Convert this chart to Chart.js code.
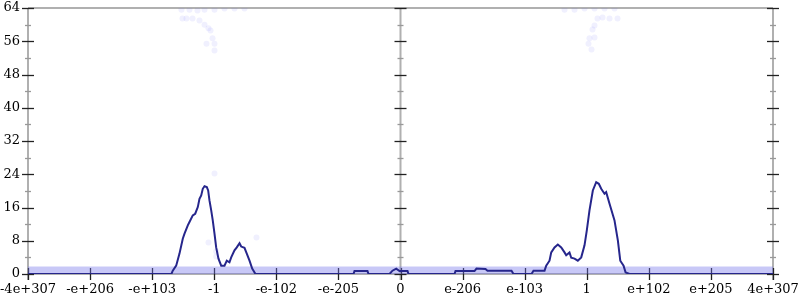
<!DOCTYPE html>
<html>
<head>
<meta charset="utf-8">
<script src="https://cdn.jsdelivr.net/npm/chart.js@4"></script>
<style>
  html, body { margin: 0; padding: 0; background: #fff; }
  #wrap { width: 800px; height: 300px; }
</style>
</head>
<body>
<div id="wrap"><canvas id="myChart" width="800" height="300"></canvas></div>
<script>
// x axis: tick index -6..6, each tick gets a label
const xTickLabels = ['-4e+307', '-e+206', '-e+103', '-1', '-e-102', '-e-205', '0',
  'e-206', 'e-103', '1', 'e+102', 'e+205', '4e+307'];
const yTicks = [0, 8, 16, 24, 32, 40, 48, 56, 64];

// histogram line (x in tick-index units)
const lineX = [-6, -3.690, -3.668, -3.613, -3.560, -3.507, -3.479, -3.426, -3.399, -3.346, -3.307,
  -3.265, -3.238, -3.210, -3.185, -3.157, -3.120, -3.098, -3.077, -3.049, -3.024,
  -2.996, -2.969, -2.932, -2.888, -2.835, -2.798, -2.755, -2.727, -2.674, -2.637,
  -2.593, -2.566, -2.513, -2.476, -2.432, -2.389, -2.336,
  -0.757, -0.741, -0.532, -0.515, -0.177, -0.129, -0.069, -0.016, 0.113, 0.129,
  0.870, 0.886, 1.192, 1.224, 1.369, 1.401, 1.788, 1.820, 2.110, 2.142, 2.320,
  2.347, 2.400, 2.428, 2.481, 2.534, 2.589, 2.642, 2.669, 2.722, 2.750,
  2.803, 2.856, 2.911, 2.964, 3.001, 3.044, 3.098, 3.152, 3.194, 3.233,
  3.286, 3.313, 3.367, 3.447, 3.501, 3.540, 3.593, 3.625, 3.689, 6];
const lineY = [0, 0, 0.8, 2.0, 4.9, 8.5, 9.7, 11.7, 12.5, 14.1, 14.5,
  16.1, 18.1, 18.9, 20.5, 21.1, 20.9, 20.1, 17.7, 15.3, 12.9,
  9.7, 6.4, 3.7, 2.0, 2.0, 3.2, 2.8, 4.0, 5.7, 6.4,
  7.4, 6.6, 6.3, 4.9, 3.2, 1.3, 0,
  0, 0.7, 0.7, 0, 0, 0.8, 1.3, 0.7, 0.7, 0,
  0, 0.7, 0.7, 1.3, 1.2, 0.8, 0.8, 0, 0, 0.8, 0.8,
  2.0, 3.2, 5.2, 6.4, 7.1, 6.4, 5.2, 4.5, 5.2, 3.9,
  3.7, 3.2, 4.0, 6.9, 10.5, 15.3, 20.1, 22.1, 21.7, 20.5,
  19.3, 19.7, 16.9, 12.9, 8.1, 3.2, 2.0, 0.4, 0, 0];

// faint samples
const dotX = [-3.528, -3.399, -3.270, -3.157, -2.996, -2.835, -2.674, -2.513,
  -3.512, -3.447, -3.350, -3.238, -3.157, -3.093, -3.060, -3.028, -3.125, -2.996, -2.996,
  -2.996, -3.093, -2.969, -2.969, -2.320,
  2.642, 2.803, 2.964, 3.125, 3.286, 3.447,
  3.173, 3.254, 3.367, 3.496, 3.125, 3.093, 3.044, 3.125, 3.028, 3.077];
const dotY = [63.6, 63.6, 63.4, 63.6, 63.6, 63.9, 63.9, 63.9,
  61.5, 61.5, 61.5, 61.0, 60.0, 59.1, 58.6, 56.7, 55.4, 55.4, 53.8,
  24.2, 7.6, 5.4, 4.2, 8.8,
  63.6, 63.6, 63.9, 63.9, 63.9, 63.9,
  61.5, 61.7, 61.5, 61.5, 59.8, 58.8, 56.7, 56.9, 55.4, 54.0];

// dense band of samples along the bottom
const bandX = [-6, 6];
const bandY = [1.8, 1.8];

const FONT = 'DejaVu Serif';

const axesPlugin = {
  id: 'axes',
  beforeDatasetsDraw(chart) {
    const {ctx, chartArea: a, scales: {x, y}} = chart;
    ctx.save();
    ctx.strokeStyle = '#b0b0b0';
    ctx.lineWidth = 2;
    const x0 = x.getPixelForValue(0);
    ctx.beginPath();
    ctx.moveTo(a.left, a.top); ctx.lineTo(a.right, a.top);
    ctx.moveTo(a.left, a.bottom); ctx.lineTo(a.right, a.bottom);
    [a.left, x0, a.right].forEach(px => {
      ctx.moveTo(px, a.top); ctx.lineTo(px, a.bottom + 6);
    });
    ctx.stroke();
    // y ticks on the three vertical axes
    [a.left, x0, a.right].forEach(px => {
      for (let v = 0; v <= 64; v += 4) {
        const py = Math.round(y.getPixelForValue(v)) + 0.5;
        const major = v % 8 === 0;
        ctx.strokeStyle = major ? '#222' : '#999';
        ctx.lineWidth = 1.3;
        ctx.beginPath();
        ctx.moveTo(px - (major ? 6 : 3), py);
        ctx.lineTo(px + (major ? 6 : 3), py);
        ctx.stroke();
      }
    });
    // x ticks
    ctx.strokeStyle = '#222';
    ctx.lineWidth = 1.3;
    for (let i = -6; i <= 6; i++) {
      const px = Math.round(x.getPixelForValue(i)) + 0.5;
      ctx.beginPath();
      ctx.moveTo(px, a.bottom - 6);
      ctx.lineTo(px, a.bottom + 6);
      ctx.stroke();
    }
    ctx.restore();
  }
};

const config = {
  type: 'line',
  data: {
    datasets: [{
      label: 'histogram',
      data: lineX.map((v, i) => ({x: v, y: lineY[i]})),
      borderColor: 'rgb(38, 38, 140)',
      borderWidth: 2,
      pointRadius: 0,
      fill: false,
      tension: 0,
      order: 1
    }, {
      label: 'samples',
      type: 'scatter',
      data: dotX.map((v, i) => ({x: v, y: dotY[i]})),
      backgroundColor: 'rgba(90, 90, 240, 0.09)',
      borderWidth: 0,
      pointRadius: 3,
      order: 2
    }, {
      label: 'band',
      data: bandX.map((v, i) => ({x: v, y: bandY[i]})),
      borderWidth: 0,
      borderColor: 'rgba(0,0,0,0)',
      backgroundColor: 'rgba(110, 110, 235, 0.38)',
      pointRadius: 0,
      fill: 'origin',
      order: 3
    }]
  },
  options: {
    responsive: false,
    animation: false,
    layout: { padding: { top: 8, right: 27, left: 0, bottom: 0 } },
    plugins: { legend: { display: false }, tooltip: { enabled: false } },
    scales: {
      x: {
        type: 'linear',
        min: -6, max: 6,
        grid: { display: false, drawTicks: false },
        border: { display: false },
        ticks: {
          stepSize: 1, autoSkip: false, maxRotation: 0, padding: 8,
          color: '#000', font: { family: FONT, size: 13 },
          callback: v => xTickLabels[v + 6]
        },
        afterFit: s => { s.height = 26; s.paddingLeft = 0; s.paddingRight = 0; }
      },
      y: {
        min: 0, max: 64,
        grid: { display: false, drawTicks: false },
        border: { display: false },
        afterBuildTicks: s => { s.ticks = yTicks.map(v => ({value: v})); },
        ticks: { padding: 8, color: '#000', font: { family: FONT, size: 13 } },
        afterFit: s => { s.width = 28; s.paddingTop = 0; s.paddingBottom = 0; }
      }
    }
  },
  plugins: [axesPlugin]
};

const myChart = new Chart(document.getElementById('myChart'), config);
</script>
</body>
</html>
